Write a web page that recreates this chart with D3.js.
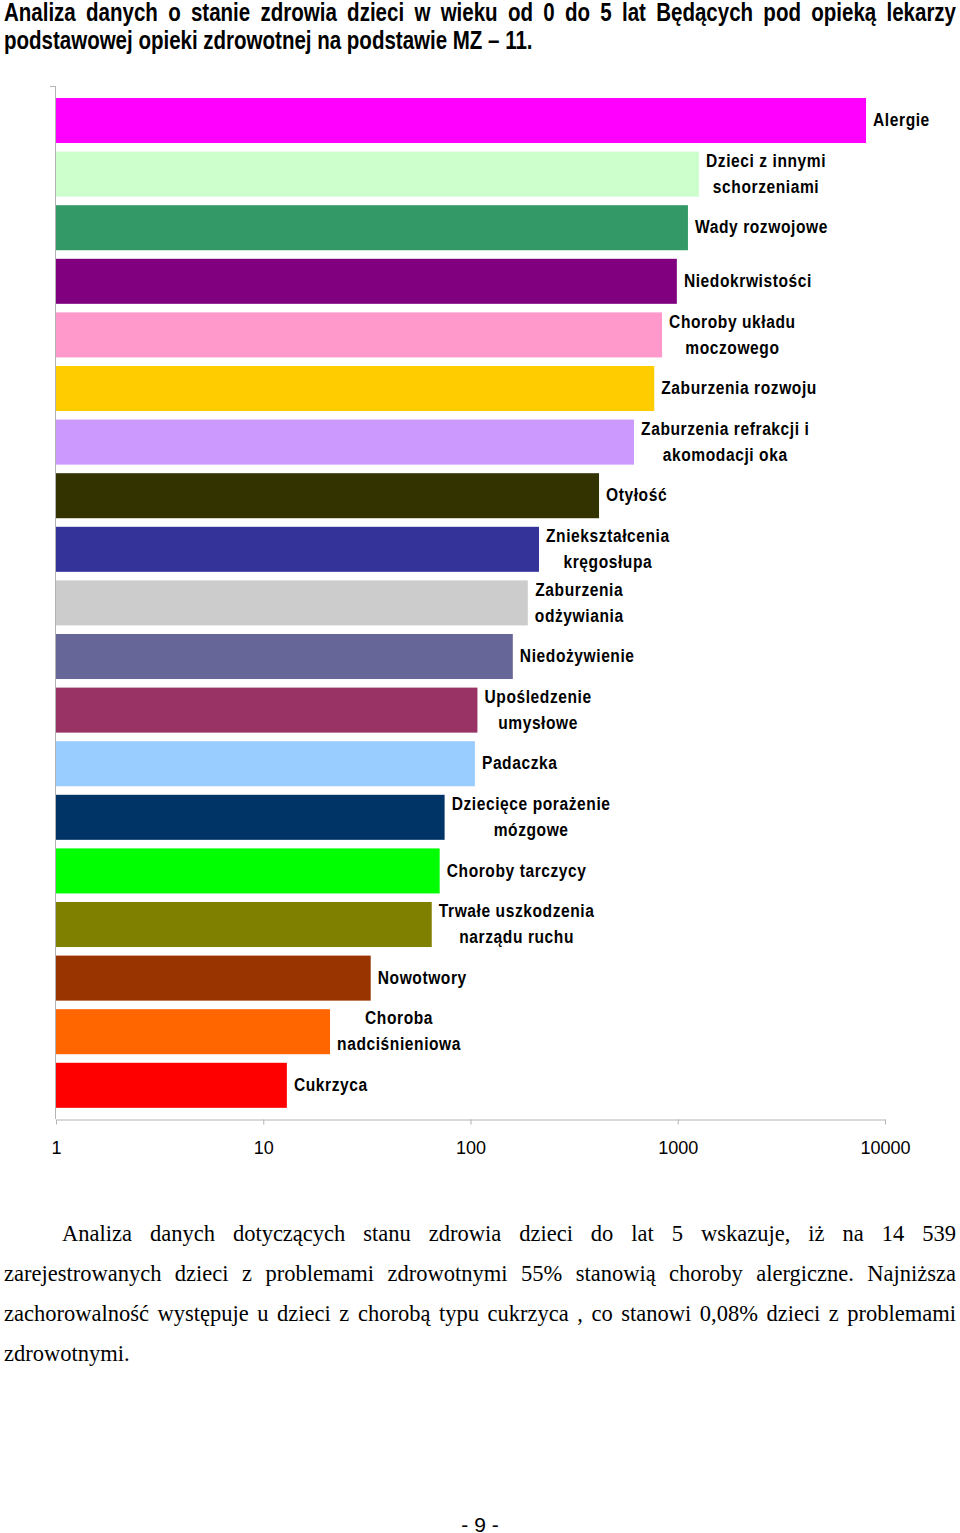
<!DOCTYPE html>
<meta charset="utf-8">
<style>
body{margin:0;background:#fff;}
#page{position:relative;width:960px;height:1533px;}
.title{position:absolute;left:4px;top:-2px;width:1161px;transform:scaleX(0.82);transform-origin:0 0;font:bold 25px "Liberation Sans",Arial,sans-serif;line-height:28px;color:#000;}
.title div{white-space:nowrap;}
.just{text-align:justify;text-align-last:justify;}
.para{position:absolute;left:4px;top:1214px;width:952px;font:22.5px "Liberation Serif","Times New Roman",serif;line-height:40px;color:#000;}
.para div{white-space:nowrap;}
.pnum{position:absolute;left:0;width:960px;top:1513px;text-align:center;font:21px "Liberation Sans",Arial,sans-serif;}
svg{position:absolute;left:0;top:0;}
.lbl{font:bold 19px "Liberation Sans",Arial,sans-serif;letter-spacing:0.7px;fill:#000;}
.xax text{font:18px "Liberation Sans",Arial,sans-serif;fill:#000;}
.xax line,.xax path{stroke:#b4b4b4;}
</style>
<body>
<div id="page">
<div class="title">
<div class="just">Analiza danych o stanie zdrowia dzieci w wieku od 0 do 5 lat Będących pod opieką lekarzy</div>
<div>podstawowej opieki zdrowotnej na podstawie MZ – 11.</div>
</div>
<div class="para">
<div class="just" style="padding-left:58px">Analiza danych dotyczących stanu zdrowia dzieci do lat 5 wskazuje, iż na 14 539</div>
<div class="just">zarejestrowanych dzieci z problemami zdrowotnymi 55% stanowią choroby alergiczne. Najniższa</div>
<div class="just">zachorowalność występuje u dzieci z chorobą typu cukrzyca , co stanowi 0,08% dzieci z problemami</div>
<div>zdrowotnymi.</div>
</div>
<div class="pnum">- 9 -</div>
</div>
<script src="https://d3js.org/d3.v7.min.js"></script>
<script>

var categories=[
 ["Alergie"],
 ["Dzieci  z innymi","schorzeniami"],
 ["Wady rozwojowe"],
 ["Niedokrwistości"],
 ["Choroby układu","moczowego"],
 ["Zaburzenia rozwoju"],
 ["Zaburzenia refrakcji i","akomodacji oka"],
 ["Otyłość"],
 ["Zniekształcenia","kręgosłupa"],
 ["Zaburzenia","odżywiania"],
 ["Niedożywienie"],
 ["Upośledzenie","umysłowe"],
 ["Padaczka"],
 ["Dziecięce porażenie","mózgowe"],
 ["Choroby tarczycy"],
 ["Trwałe uszkodzenia","narządu ruchu"],
 ["Nowotwory"],
 ["Choroba","nadciśnieniowa"],
 ["Cukrzyca"]
];
var values=[8100,1265,1120,990,840,770,615,417,214,189,160,108,105,75,71,65,33,21,13];
var colors=["#ff00ff","#ccffcc","#339966","#800080","#ff99cc","#ffcc00","#cc99ff","#333300","#333399","#cccccc","#666699","#993366","#99ccff","#003366","#00ff00","#808000","#993300","#ff6600","#ff0000"];
var tickVals=[1,10,100,1000,10000];

var svg=d3.select("#page").append("svg").attr("width",960).attr("height",1533);

var x=d3.scaleLog().domain([1,10000]).range([56,885]);
var step=53.6;
var y=d3.scaleBand().domain(d3.range(values.length))
  .range([98-step*0.08,98-step*0.08+step*values.length])
  .paddingInner(0.16).paddingOuter(0.08);

// left axis line
svg.append("line").attr("x1",55.5).attr("x2",55.5).attr("y1",86).attr("y2",1119).attr("stroke","#b4b4b4");
svg.append("line").attr("x1",50).attr("x2",56).attr("y1",86.5).attr("y2",86.5).attr("stroke","#b4b4b4");

svg.selectAll(".bar").data(values).enter().append("rect")
  .attr("x",x(1))
  .attr("y",(d,i)=>y(i))
  .attr("width",d=>x(d)-x(1))
  .attr("height",y.bandwidth())
  .attr("fill",(d,i)=>colors[i]);

var xa=svg.append("g").attr("class","xax").attr("transform","translate(0,1119.5)")
  .call(d3.axisBottom(x).tickValues(tickVals).tickFormat(d3.format("d")).tickSize(5).tickSizeOuter(0).tickPadding(17));

// labels: narrow look by squeezing horizontally
var sx=0.82;
var lg=svg.selectAll(".lbl").data(values).enter().append("text").attr("class","lbl")
  .attr("text-anchor","middle");
lg.each(function(d,i){
  var t=d3.select(this), lines=categories[i], n=lines.length;
  var cy=y(i)+y.bandwidth()/2-1;
  lines.forEach(function(s,k){
    t.append("tspan").attr("x",0).attr("y",(k-(n-1)/2)*26).attr("dy","0.35em").text(s);
  });
  var w=this.getBBox().width;
  t.attr("transform","translate("+(x(d)+7+w*sx/2)+","+cy+") scale("+sx+",1)");
});
</script>
</body>
